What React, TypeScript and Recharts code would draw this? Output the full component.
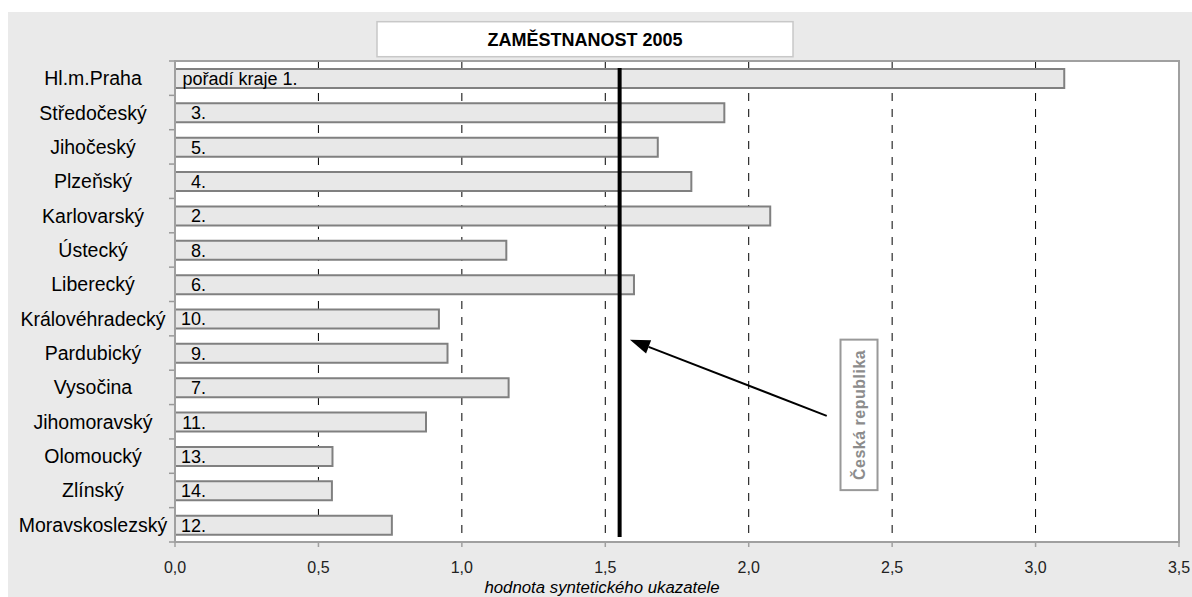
import React from 'react';
import { BarChart, Bar, XAxis, YAxis, CartesianGrid, ReferenceLine, LabelList } from 'recharts';

const categories = ['Hl.m.Praha', 'Středočeský', 'Jihočeský', 'Plzeňský', 'Karlovarský', 'Ústecký', 'Liberecký', 'Královéhradecký', 'Pardubický', 'Vysočina', 'Jihomoravský', 'Olomoucký', 'Zlínský', 'Moravskoslezský'];
const values = [3.1, 1.915, 1.683, 1.8, 2.075, 1.155, 1.6, 0.92, 0.95, 1.163, 0.875, 0.549, 0.547, 0.756];
const rankLabels = ['pořadí kraje 1.', '3.', '5.', '4.', '2.', '8.', '6.', '10.', '9.', '7.', '11.', '13.', '14.', '12.'];
const xTicks = [0, 0.5, 1, 1.5, 2, 2.5, 3, 3.5];
const czValue = 1.55;
const titleText = 'ZAMĚSTNANOST 2005';
const axisTitle = 'hodnota syntetického ukazatele';
const czLabel = 'Česká republika';

const data = categories.map((name, i) => ({ name, value: values[i], rank: rankLabels[i] }));

const W = 1184;
const H = 585;
const M = { top: 49, right: 13, bottom: 5, left: 0 };
const Y_W = 167;
const X_H = 50;
const plotL = M.left + Y_W;
const plotT = M.top;
const plotW = W - plotL - M.right;
const plotH = H - M.top - M.bottom - X_H;
const band = plotH / categories.length;
const FONT = '"Liberation Sans", Arial, sans-serif';

const xPx = (v: number) => plotL + (v / 3.5) * plotW;
const yPx = (b: number) => plotT + b * band;

const CatTick = (props: any) => {
  const { y, payload, index } = props;
  return (
    <g>
      <text x={85} y={y} dy="0.36em" textAnchor="middle" fontSize={19.5} fontFamily={FONT} fill="#000">
        {payload.value}
      </text>
      <line x1={plotL - 6} x2={plotL} y1={y - band / 2} y2={y - band / 2} stroke="#999" strokeWidth={1.5} />
      {index === categories.length - 1 && (
        <line x1={plotL - 6} x2={plotL} y1={y + band / 2} y2={y + band / 2} stroke="#999" strokeWidth={1.5} />
      )}
    </g>
  );
};

const RankLabel = (props: any) => {
  const vb = props.viewBox || props;
  const x = vb.x ?? props.x;
  const y = vb.y ?? props.y;
  const h = vb.height ?? props.height;
  const first = props.index === 0;
  return (
    <text
      x={first ? x + 7.5 : x + 31}
      y={y + h / 2}
      dy="0.36em"
      textAnchor={first ? 'start' : 'end'}
      fontSize={18}
      fontFamily={FONT}
      fill="#000"
    >
      {props.value}
    </text>
  );
};

const CzLine = (p: any) => (
  <line x1={p.x1} x2={p.x2} y1={Math.min(p.y1, p.y2) + 7} y2={Math.max(p.y1, p.y2) - 5} stroke="#000" strokeWidth={4} />
);

export default function App() {
  const tip = { x: xPx(1.586), y: yPx(8.11) };
  const tail = { x: xPx(2.272), y: yPx(10.33) };
  const dx = tip.x - tail.x;
  const dy = tip.y - tail.y;
  const len = Math.sqrt(dx * dx + dy * dy);
  const ux = dx / len;
  const uy = dy / len;
  const hl = 20;
  const hw = 7;
  const bx = tip.x - ux * hl;
  const by = tip.y - uy * hl;
  const head = `${tip.x},${tip.y} ${bx - uy * hw},${by + ux * hw} ${bx + uy * hw},${by - ux * hw}`;

  const boxX1 = xPx(2.32);
  const boxX2 = xPx(2.449);
  const boxY1 = yPx(8.11);
  const boxY2 = yPx(12.49);
  const cx = (boxX1 + boxX2) / 2;
  const cy = (boxY1 + boxY2) / 2;

  return (
    <div style={{ position: 'fixed', left: 8, top: 12, width: W, height: H, background: '#eaeaea' }}>
      <BarChart layout="vertical" width={W} height={H} data={data} margin={M} barSize={19}>
        <CartesianGrid horizontal={false} vertical={true} fill="#ffffff" stroke="#000" strokeDasharray="8 8" />
        <XAxis
          type="number"
          domain={[0, 3.5]}
          ticks={xTicks}
          interval={0}
          height={X_H}
          tickFormatter={(v: number) => v.toFixed(1).replace('.', ',')}
          axisLine={{ stroke: '#a0a0a0', strokeWidth: 2 }}
          tickLine={{ stroke: '#a0a0a0', strokeWidth: 1.5 }}
          tickSize={5}
          tickMargin={15}
          tick={{ fontSize: 16, fontFamily: FONT, fill: '#222' }}
        />
        <YAxis
          type="category"
          dataKey="name"
          width={Y_W}
          interval={0}
          axisLine={{ stroke: '#a0a0a0', strokeWidth: 2 }}
          tickLine={false}
          tick={<CatTick />}
        />
        <Bar dataKey="value" fill="#e8e8e8" stroke="#808080" strokeWidth={2} isAnimationActive={false}>
          <LabelList dataKey="rank" content={RankLabel} />
        </Bar>
        <ReferenceLine x={czValue} stroke="#000" strokeWidth={4} shape={CzLine} />
      </BarChart>
      <svg width={W} height={H} style={{ position: 'absolute', left: 0, top: 0, pointerEvents: 'none', overflow: 'visible' }}>
        <rect x={plotL} y={plotT} width={plotW} height={plotH} fill="none" stroke="#a0a0a0" strokeWidth={2} />
        <rect x={369} y={9.7} width={416} height={35} fill="#fff" stroke="#c8c8c8" strokeWidth={1.5} />
        <text x={577} y={33.5} textAnchor="middle" fontSize={18} fontWeight="bold" fontFamily={FONT} fill="#000">
          {titleText}
        </text>
        <line x1={tail.x} y1={tail.y} x2={bx} y2={by} stroke="#000" strokeWidth={2} />
        <polygon points={head} fill="#000" />
        <rect x={boxX1} y={boxY1} width={boxX2 - boxX1} height={boxY2 - boxY1} fill="#fff" stroke="#999" strokeWidth={2} />
        <text
          x={cx}
          y={cy}
          dy="0.36em"
          textAnchor="middle"
          fontSize={16}
          fontWeight="bold"
          fontFamily={FONT}
          fill="#8c8c8c"
          letterSpacing={0.5}
          transform={`rotate(-90 ${cx} ${cy})`}
        >
          {czLabel}
        </text>
        <text x={594} y={581} textAnchor="middle" fontSize={16.8} fontStyle="italic" fontFamily={FONT} fill="#000">
          {axisTitle}
        </text>
      </svg>
    </div>
  );
}
